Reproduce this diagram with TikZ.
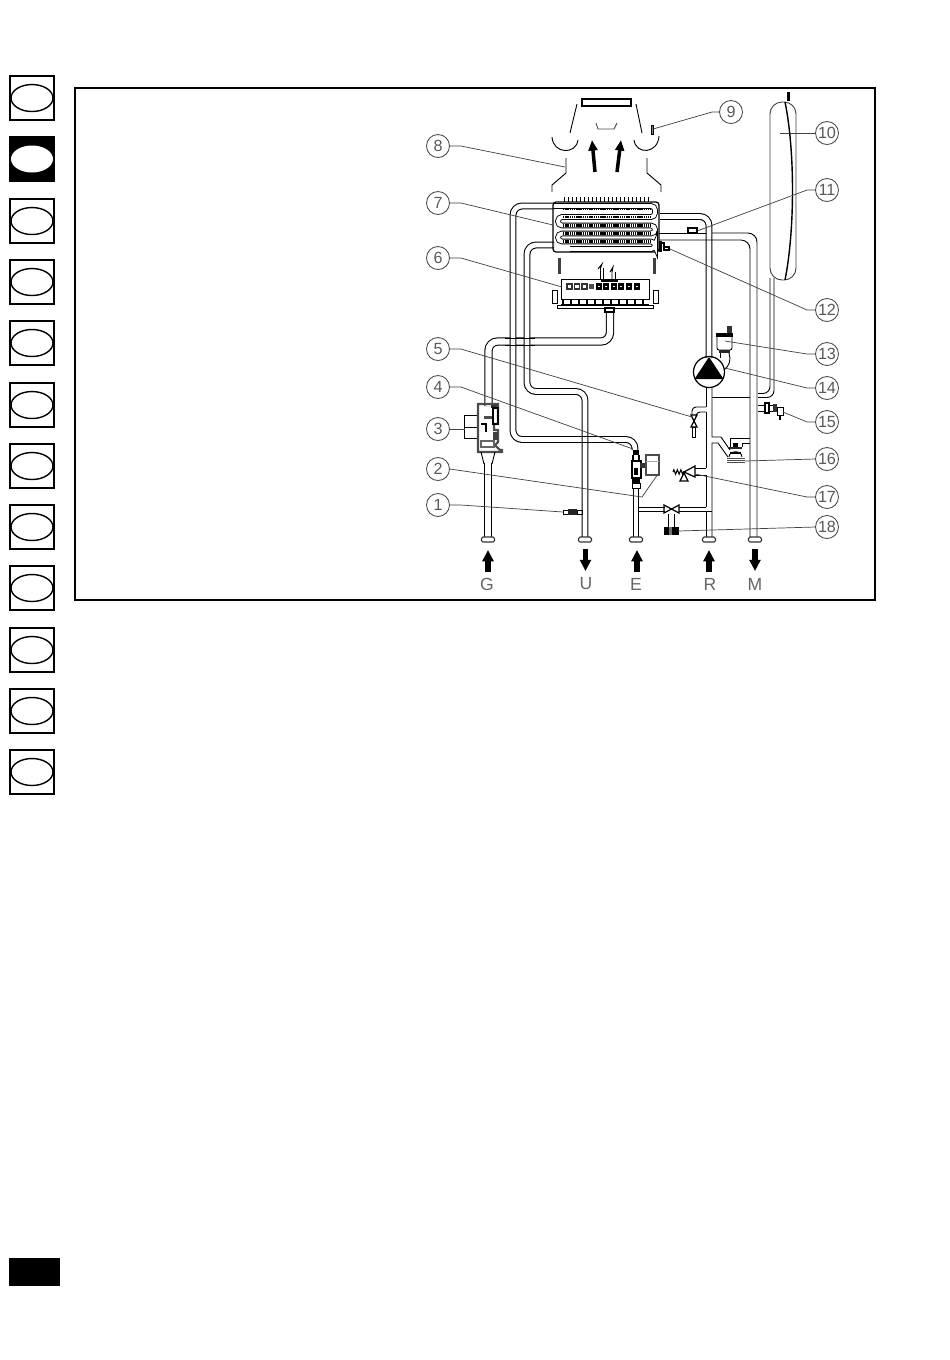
\documentclass[tikz,border=0pt]{standalone}
\usepackage{fontspec}
\setmainfont{Liberation Sans}
\usetikzlibrary{arrows.meta,decorations.pathmorphing,shapes.geometric}
\tikzset{
  wire/.style={draw=black,line width=.26pt},
  pipe/.style={draw=black,line width=.3pt,double=white,double distance=1.35pt,rounded corners=.9mm},
  gaspipe/.style={pipe,double distance=1.75pt},
  coil/.style={draw=black,line width=.25pt,double=white,double distance=1.1pt,rounded corners=.4mm},
  fins/.style={draw=black,line width=.8pt,dash pattern=on .42pt off .2pt},
  leader/.style={draw=black!75,line width=.2pt},
  partnum/.style={circle,draw=black!70,line width=.25pt,minimum size=2.3mm,inner sep=0pt,font=\fontsize{4.6}{4.6}\selectfont,text=black!65},
  flowarrow/.style={draw=black,line width=1.45pt,-{Triangle[width=3.1pt,length=3.2pt]}},
  flamearrow/.style={draw=black,line width=1pt,-{Triangle[width=2.5pt,length=3pt]}},
  endnut/.style={draw=black!80,line width=.3pt,rounded corners=.15mm},
  endname/.style={font=\fontsize{5}{5}\selectfont,text=black!60,inner sep=0pt},
  tabbox/.style={rectangle,draw=black,line width=.57pt,minimum size=4.45mm,inner sep=0pt},
  tabring/.style={ellipse,draw=black,line width=.4pt,minimum width=4.2mm,minimum height=2.7mm,inner sep=0pt},
}
\begin{document}
\begin{tikzpicture}[x=0.1mm,y=-0.1mm]
    \useasboundingbox (0,0) rectangle (950,1360);
    \fill[white] (0,0) rectangle (950,1360);

    % Side tabs
    \foreach \i/\y in {1/98,3/221,4/282,5/343,6/405,7/466,8/527,9/588,10/650,11/711,12/772} {
        \node[tabbox] (tab\i) at (32,\y) {};
        \node[tabring] (ring\i) at (tab\i) {};
    }
    \node[tabbox,fill=black] (tab2) at (32,159) {};
    \node[tabring,fill=white,draw=none] (ring2) at (tab2) {};
    \node[fill=black,minimum width=5.1mm,minimum height=2.8mm,inner sep=0pt] (pagetab) at (34.5,1272) {};

    % Frame
    \draw[line width=.57pt] (75,88) rectangle (875,600);

    % Flue hood
    \draw[wire,line width=.5pt,fill=white] (582,99) rectangle (631,106);
    \draw[wire] (577,104) -- (570,133);
    \draw[wire] (636,104) -- (642,133);
    \draw[wire] (552,137) .. controls (553,154) and (576,155) .. (578,140);
    \draw[wire] (634,140) .. controls (636,155) and (658,154) .. (659,136);
    \draw[wire] (566,158) -- (566,173) -- (552,185) -- (552,192);
    \draw[wire] (647,158) -- (647,173) -- (661,185) -- (661,192);
    \draw[wire,black!70] (596,123) -- (598,129) -- (614,129) -- (617,123);
    \draw[flamearrow] (595,172) -- (592,140);
    \draw[flamearrow] (617,172) -- (621,140);
    \draw[wire,fill=black!50] (651,125) rectangle (653,134);

    % Exchanger fins on top
    \foreach \x in {564,568,...,648} {
        \draw[wire] (\x,197) -- (\x,202);
    }

    % Pipes
    \draw[gaspipe] (610,310) -- (610,341.5) -- (488.5,341.5) -- (488.5,406);
    \draw[gaspipe] (488,463) -- (488,537);
    \draw[pipe] (554,206) -- (513,206) -- (513,439.5) -- (635,439.5) -- (635,450);
    \draw[pipe] (554,245) -- (527,245) -- (527,391.5) -- (585,391.5) -- (585,537);
    \draw[pipe] (636,488) -- (636,537);
    \draw[pipe] (660,216.5) -- (709,216.5) -- (709,358);
    % see-through crossings
    \foreach \y in {338,345} {
        \draw[wire] (505,\y) -- (535,\y);
    }
    \foreach \y in {436.6,442.4} {
        \draw[wire] (578,\y) -- (592,\y);
    }

    % Heating return and bypass
    \draw[wire] (706,388) -- (706,407);
    \draw[wire] (706,412) -- (706,468);
    \draw[wire] (706,475) -- (706,507);
    \draw[wire] (706,512) -- (706,537);
    \draw[wire] (712,388) -- (712,437) -- (721,437) -- (730,450);
    \draw[wire] (712,537) -- (712,443) -- (718,443) -- (728,457);
    \draw[wire] (712,397) -- (750,397);
    \draw[wire] (730,447) -- (730,438) -- (750,438);
    \draw[wire] (742,447) -- (742,443) -- (750,443);
    \draw[wire] (659,233) -- (706,233);
    \draw[wire,rounded corners=.9mm] (659,240) -- (750,240) -- (750,537);
    \draw[wire,rounded corners=.9mm] (712,233) -- (757,233) -- (757,250);
    \draw[draw=black!30,line width=.45pt] (757,245) -- (757,537);
    % Vessel pipe
    \draw[wire,rounded corners=.7mm] (758,393.5) -- (770,393.5) -- (770,278);
    \draw[wire,rounded corners=.7mm] (758,397.5) -- (774,397.5) -- (774,278);

    % Cold water branch
    \draw[wire] (639,507) -- (665,507);
    \draw[wire] (639,511) -- (665,511);
    \draw[wire] (679,507) -- (706,507);
    \draw[wire] (679,511) -- (712,511);

    % Heat exchanger
    \draw[wire,line width=.35pt,rounded corners=.3mm] (553,202) rectangle (659,252);
    \draw[coil] (554,206) -- (655,206) -- (655,217) -- (558,217) -- (558,225.5) -- (655,225.5) -- (655,233.5) -- (558,233.5) -- (558,241.5) -- (655,241.5) -- (655,249) -- (570,249);
    \foreach \y in {209,217,225.5,233.5,241.5} {
        \draw[fins] (563,\y) -- (651,\y);
    }

    % Burner
    \fill[black!75] (557.5,258) rectangle (560.5,274);
    \fill[black!75] (652.5,258) rectangle (655.5,274);
    \draw[wire] (561,279) rectangle (649,299);
    \draw[wire] (561,304) -- (649,304);
    \draw[wire] (552,290) rectangle (557,303);
    \draw[wire] (653,290) rectangle (658,303);
    \draw[wire] (557,305) rectangle (653,308);
    \foreach \x in {567,574.5,582} {
        \draw[wire,black!80,line width=.4pt] (\x,284) rectangle ++(5,5);
    }
    \fill[black!70] (589,284) rectangle (594,289);
    \foreach \x in {597,604,612,619,627,635} {
        \draw[wire,line width=.7pt] (\x,284.5) rectangle ++(4,4);
    }
    \foreach \x in {562,570,578,586,594,602,610,618,626,634,642} {
        \fill[black] (\x,299.5) rectangle ++(2,4.5);
    }
    \fill[black] (562,299) rectangle (648,300);
    \draw[wire] (600.5,280) -- (600.5,268) -- (602,264) -- (598,269);
    \draw[wire] (603,280) -- (603,268);
    \draw[wire] (612,280) -- (612,272) -- (613,267) -- (610,272);
    \draw[wire] (615,280) -- (615,272);
    \draw[line width=.6pt] (601,281) -- (618,281);
    \draw[wire,line width=.5pt,fill=white] (605,308) rectangle (614,312);

    % Gas valve
    \draw[wire] (464,415) rectangle (478,438);
    \draw[wire] (464,427) -- (478,427);
    \draw[draw=black!70,line width=.6pt] (478,445) -- (478,404) -- (498,404) -- (498,424) -- (494,424) -- (494,430) -- (498,430) -- (498,442) -- (495,445) -- (500,450) -- (502,450) -- (502,452) -- (478,452) -- (478,445);
    \fill[black!70] (484,416) rectangle (492,419);
    \fill[black!80] (491,405) rectangle (497,408);
    \draw[wire,line width=.55pt] (493,408) rectangle (498,424);
    \draw[wire,line width=.5pt] (481,424) -- (486,424) -- (486,432);
    \fill[black!75] (493,432) rectangle (498,440);
    \draw[wire,black!60,line width=.45pt] (481,441) -- (494,441) -- (494,447) -- (481,447) -- cycle;
    \draw[wire] (481,452) -- (484,464);
    \draw[wire] (495,452) -- (492,464);

    % Flow switch
    \fill[black] (633,450) rectangle (639,455);
    \draw[wire,line width=.55pt,fill=white] (632,461) rectangle (641,478);
    \fill[black] (634,468) rectangle (638,475);
    \draw[wire,line width=.4pt] (633,455) -- (633,461);
    \draw[wire,line width=.4pt] (639,455) -- (639,461);
    \fill[black!80] (640,463) rectangle (645,468);
    \fill[black] (632,478) rectangle (640,483);
    \draw[wire] (632,483) rectangle (640,488);
    \draw[wire,draw=black!70,line width=.4pt] (646,455) rectangle (659,475);
    \draw[draw=black!35,line width=.25pt] (646,461) -- (659,461);

    % Filling valve
    \draw[wire,line width=.35pt] (664,505) -- (664,513) -- (679,505) -- (679,513) -- cycle;
    \draw[wire] (668,514) -- (668,527);
    \draw[wire] (674,514) -- (674,527);
    \fill[black] (664,527) rectangle (679,535);
    \fill[black!55] (669,527) rectangle (672,535);

    % Safety valve
    \draw[wire,rounded corners=.4mm] (706,407) -- (692,407) -- (692,415);
    \draw[wire,rounded corners=.4mm] (706,412) -- (696,412) -- (696,415);
    \draw[wire,line width=.35pt] (691,415) -- (697,415) -- (691,427) -- (697,427) -- cycle;
    \draw[wire] (692.5,427) rectangle (695.5,437);

    % Relief valve
    \draw[wire] (706,468) -- (695,468);
    \draw[wire] (706,475) -- (695,475);
    \draw[wire,line width=.35pt] (695,466) -- (695,477) -- (684,472) -- cycle;
    \draw[wire,line width=.35pt] (684,473) -- (680,481) -- (688,481) -- cycle;
    \draw[line width=.3pt,decorate,decoration={zigzag,amplitude=.22mm,segment length=.35mm}] (673,472) -- (684,472);

    % Air vent
    \fill[black!80] (727,326) rectangle (732,333);
    \fill[black] (716,333) rectangle (733,337);
    \draw[wire,rounded corners=.2mm] (717,337) -- (717,350) -- (732,350) -- (732,337);
    \fill[black!85] (719,350) rectangle (730,353);
    \draw[wire] (729,353) .. controls (731,360) and (730,365) .. (724,370);
    \draw[wire] (720,353) -- (720,358);

    % Pump
    \draw[wire,line width=.35pt] (709,372) circle (15.5);
    \fill[black] (709,357) -- (723.5,379) -- (694.5,379) -- cycle;

    % Diaphragm
    \fill[black!85] (728,447) rectangle (742,449);
    \fill[black] (733,443) rectangle (738,447);
    \draw[wire,fill=white] (729,457) .. controls (729,450) and (742,450) .. (742,457);
    \draw[line width=.3pt] (730,453) -- (741,453);
    \fill[black!70] (727,458) rectangle (745,463);
    \foreach \y in {459.5,461.5} {
        \draw[white,line width=.1pt] (727,\y) -- (745,\y);
    }

    % Expansion vessel
    \draw[wire,fill=white,draw=black!75] (770,102) [rounded corners=1.2mm] -- (770,280) -- (796,280) -- (796,102) -- cycle;
    \draw[line width=.4pt] (785,102) .. controls (795,150) and (795,230) .. (785,280);
    \fill[black] (787,92) rectangle (790,101);

    % Tap on pipe M
    \draw[wire] (758,405) -- (765,405);
    \draw[wire] (758,411) -- (765,411);
    \draw[wire,line width=.4pt] (765,403) rectangle (769,413);
    \draw[wire] (769,405) rectangle (773,411);
    \fill[black!80] (773,404) rectangle (777,412);
    \draw[wire] (777,407) rectangle (783,415);
    \draw[wire,line width=.45pt] (780,415) -- (780,420);

    % Probes
    \draw[wire,fill=white] (563,510) rectangle (568,514);
    \fill[black!85] (568,509) rectangle (577,515);
    \draw[wire] (577,510) rectangle (582,514);
    \draw[wire,line width=.4pt,fill=white] (688,228) rectangle (697,233);
    \draw[wire,line width=.7pt] (660.5,241) -- (660.5,252);
    \draw[wire,line width=.4pt] (661,243) -- (664,243) -- (664,250);
    \draw[wire,line width=.4pt] (664,247) rectangle (669,250);

    % Connections at the bottom
    \foreach \x/\name/\lx in {488/G/487,585/U/586,636/E/636,709/R/710,755/M/755} {
        \draw[endnut,fill=white] (\x-6.5,537) rectangle (\x+6.5,542);
        \node[endname] (name\name) at (\lx,584) {\name};
    }
    \foreach \x in {488,637,709} {
        \draw[flowarrow] (\x,572) -- (\x,550);
    }
    \foreach \x in {585.5,755} {
        \draw[flowarrow] (\x,549) -- (\x,571);
    }

    % Part numbers on the left
    \foreach \i/\y/\tx/\ty in {1/505/563/512,3/429/465/429,4/387/633/449,5/349/692/417,6/258/562/287,7/203/553/225,8/146/565/167} {
        \node[partnum] (num\i) at (438,\y) {\i};
        \coordinate (to\i) at (\tx,\ty);
        \draw[leader] (num\i.east) -- ++(11,0) -- (to\i);
    }
    \node[partnum] (num2) at (438,469) {2};
    \coordinate (to2a) at (642,497);
    \coordinate (to2b) at (658,474);
    \draw[leader] (num2.east) -- (to2a) -- (to2b);

    % Part numbers on the right
    \foreach \i/\y/\tx/\ty in {11/190/697/231,12/310/670/249,13/354/725/341,14/388/725/368,15/422/783/412,17/497/695/474} {
        \node[partnum] (num\i) at (827,\y) {\i};
        \coordinate (to\i) at (\tx,\ty);
        \draw[leader] (num\i.west) -- ++(-8,0) -- (to\i);
    }
    \foreach \i/\y/\tx/\ty in {10/133/780/133,16/459/745/461,18/527/678/531} {
        \node[partnum] (num\i) at (827,\y) {\i};
        \coordinate (to\i) at (\tx,\ty);
        \draw[leader] (num\i.west) -- (to\i);
    }
    \node[partnum] (num9) at (731,112) {9};
    \coordinate (to9) at (653,129);
    \draw[leader] (num9.west) -- ++(-7,0) -- (to9);
\end{tikzpicture}
\end{document}
